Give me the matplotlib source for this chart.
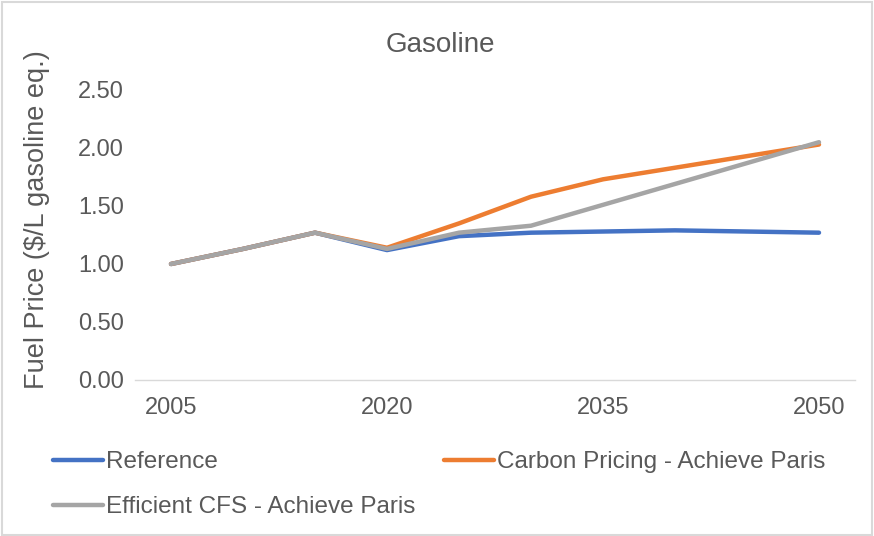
import matplotlib.pyplot as plt
from matplotlib.patches import Rectangle

years = [2005, 2010, 2015, 2020, 2025, 2030, 2035, 2040, 2045, 2050]
reference = [1.00, 1.13, 1.27, 1.12, 1.24, 1.27, 1.28, 1.29, 1.28, 1.27]
carbon_pricing = [1.00, 1.13, 1.27, 1.14, 1.35, 1.58, 1.73, 1.83, 1.93, 2.03]
efficient_cfs = [1.00, 1.13, 1.27, 1.13, 1.27, 1.33, 1.51, 1.69, 1.87, 2.05]
tick_years = [2005, 2020, 2035, 2050]
y_ticks = [0.0, 0.5, 1.0, 1.5, 2.0, 2.5]

plt.rcParams['font.family'] = ['Liberation Sans', 'DejaVu Sans']

txt = '#595959'

fig = plt.figure(figsize=(8.74, 5.36), dpi=100)
ax = fig.add_axes([135 / 874, 1 - 380 / 536, 720 / 874, 290 / 536])

ax.plot(years, reference, color='#4472C4', lw=3.2, solid_capstyle='round', label='Reference')
ax.plot(years, carbon_pricing, color='#ED7D31', lw=3.2, solid_capstyle='round',
        label='Carbon Pricing - Achieve Paris')
ax.plot(years, efficient_cfs, color='#A5A5A5', lw=3.2, solid_capstyle='round',
        label='Efficient CFS - Achieve Paris')

ax.set_xlim(2002.5, 2052.5)
ax.set_ylim(0, 2.5)
ax.set_xticks(tick_years)
ax.set_yticks(y_ticks)
ax.set_yticklabels([f'{v:.2f}' for v in y_ticks])
ax.tick_params(length=0, labelsize=17, colors=txt, pad=8)
ax.tick_params(axis='x', pad=12)
for s in ['top', 'right', 'left']:
    ax.spines[s].set_visible(False)
ax.spines['bottom'].set_color('#D9D9D9')
ax.spines['bottom'].set_linewidth(1)

ax.set_ylabel('Fuel Price ($/L gasoline eq.)', fontsize=19.5, color=txt, va='center')
ax.yaxis.set_label_coords((37 - 135) / 720, (380 - 220) / 290)
fig.text(440 / 874, 1 - 45 / 536, 'Gasoline', ha='center', va='center', fontsize=20, color=txt)

h, l = ax.get_legend_handles_labels()
order = [0, 2, 1]
fig.legend([h[i] for i in order], [l[i] for i in order], ncol=2, frameon=False,
           loc='upper left', bbox_to_anchor=(53 / 874, 1 - 451 / 536),
           borderpad=0, borderaxespad=0, handlelength=2.05, handletextpad=0.12,
           columnspacing=1.2, labelspacing=0.95, prop={'size': 17.5}, labelcolor=txt)

fig.patches.append(Rectangle((0.002, 0.002), 0.996, 0.994, transform=fig.transFigure,
                             fill=False, edgecolor='#D9D9D9', lw=1.5))

fig.savefig('out.png', dpi=100)
